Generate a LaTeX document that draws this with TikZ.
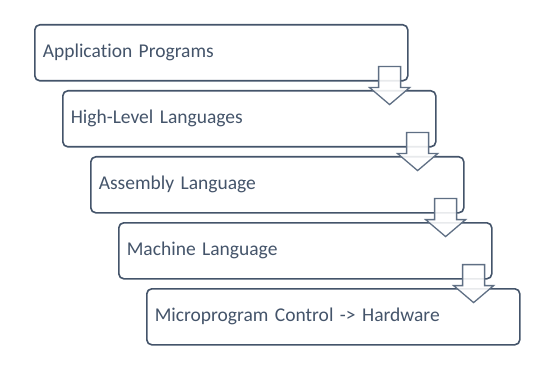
\documentclass[tikz,border=0pt]{standalone}
\usepackage{fontspec}
\setmainfont{Carlito}[Ligatures=NoCommon]
\usetikzlibrary{calc}
\definecolor{slate}{HTML}{44546A}
\definecolor{arrowline}{HTML}{5F6F84}
\tikzset{
  x=1pt, y=-1pt,
  levelbox/.style={draw=slate, line width=1.6pt, rounded corners=5pt, fill=white,
    minimum width=373pt, minimum height=56pt, anchor=north west,
    text=slate, align=left, inner xsep=8pt,
    font=\fontsize{19.5}{22}\selectfont, text width=357pt},
  blockarrow/.style={draw=arrowline, line width=1.3pt, fill=white, fill opacity=0.88,
    line join=miter}
}
% block arrow hanging from the lower right corner of a box
\newcommand{\downblock}[1]{%
  \draw[blockarrow] ($(#1.south east)+(-30,-15)$) -- ++(22,0) -- ++(0,21)
    -- ++(9,0) -- ++(-20,17) -- ++(-20,-17) -- ++(9,0) -- cycle;}
\begin{document}
\begin{tikzpicture}
\useasboundingbox (0,0) rectangle (545,379);
\node[levelbox] (b1) at (34,24)  {Application Programs};
\node[levelbox] (b2) at (62,90)  {High-Level Languages};
\node[levelbox] (b3) at (90,156) {Assembly Language};
\node[levelbox] (b4) at (118,222) {Machine Language};
\node[levelbox] (b5) at (146,288) {Microprogram Control -> Hardware};
\downblock{b1}
\downblock{b2}
\downblock{b3}
\downblock{b4}
\end{tikzpicture}
\end{document}
